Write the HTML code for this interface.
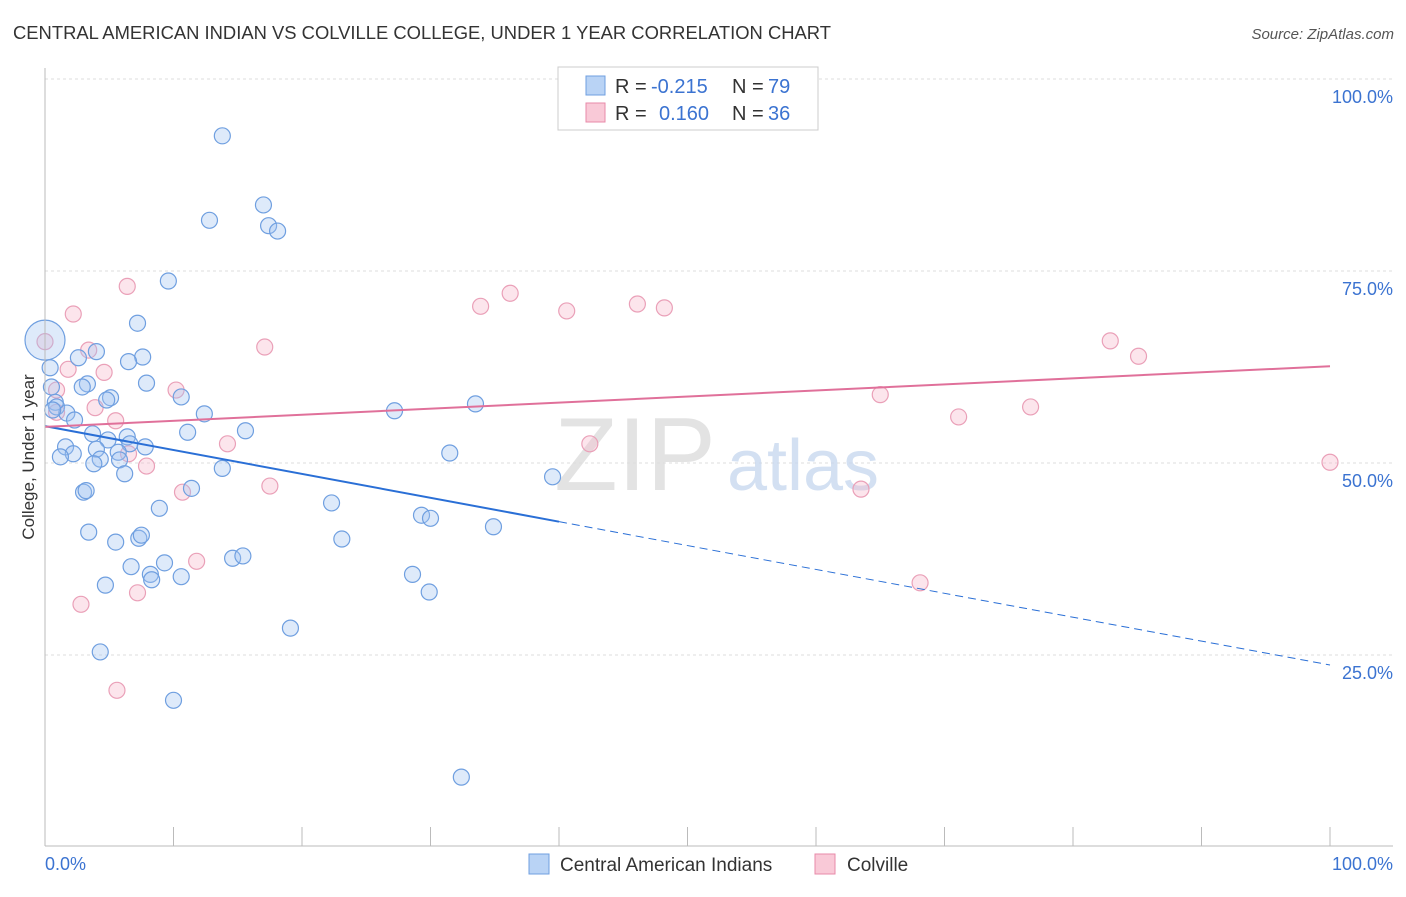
<!DOCTYPE html>
<html><head><meta charset="utf-8">
<style>
body{margin:0;background:#fff;font-family:"Liberation Sans",sans-serif;}
svg text{font-family:"Liberation Sans",sans-serif;}
</style></head>
<body>
<svg id="chart" width="1406" height="892" viewBox="0 0 1406 892" xmlns="http://www.w3.org/2000/svg">
<text x="13" y="39" font-size="18" fill="#333" textLength="818" lengthAdjust="spacingAndGlyphs">CENTRAL AMERICAN INDIAN VS COLVILLE COLLEGE, UNDER 1 YEAR CORRELATION CHART</text>
<text x="1394" y="39" font-size="15" fill="#555" text-anchor="end" font-style="italic">Source: ZipAtlas.com</text>
<g id="grid"></g>
<g>
<text x="635" y="490" font-size="104" fill="#ddd" text-anchor="middle" font-family="Liberation Serif" opacity="0.8">ZIP</text>
<text x="803" y="490" font-size="72" fill="#c9d9ef" text-anchor="middle" opacity="0.8">atlas</text>
</g>
<g id="pts"></g>
<g id="lines"></g>
<g id="axes"></g>
<text transform="translate(34,457) rotate(-90)" font-size="17" fill="#333" text-anchor="middle">College, Under 1 year</text>
<g>
<rect x="558" y="67" width="260" height="63" fill="#fff" stroke="#ccc"/>
<rect x="586" y="76" width="19" height="19" fill="#b9d3f5" stroke="#6f9fe0"/>
<text x="615" y="93" font-size="20" fill="#333">R =</text>
<text x="651" y="93" font-size="20" fill="#3b73d1">-0.215</text>
<text x="732" y="93" font-size="20" fill="#333">N =</text>
<text x="768" y="93" font-size="20" fill="#3b73d1">79</text>
<rect x="586" y="103" width="19" height="19" fill="#f9c9d7" stroke="#e88aa8"/>
<text x="615" y="120" font-size="20" fill="#333">R =</text>
<text x="659" y="120" font-size="20" fill="#3b73d1">0.160</text>
<text x="732" y="120" font-size="20" fill="#333">N =</text>
<text x="768" y="120" font-size="20" fill="#3b73d1">36</text>
</g>
<g>
<rect x="529" y="854" width="20" height="20" fill="#b9d3f5" stroke="#6f9fe0"/>
<text x="560" y="871" font-size="19" fill="#333">Central American Indians</text>
<rect x="815" y="854" width="20" height="20" fill="#f9c9d7" stroke="#e88aa8"/>
<text x="847" y="871" font-size="19" fill="#333">Colville</text>
</g>
</svg>
<script>
const yTicks=[25,50,75,100];
const yTickLabels=["25.0%","50.0%","75.0%","100.0%"];
const xLabels=["0.0%","100.0%"];
const blueX=[13.8,17.0,12.8,17.4,18.1,9.6,7.2,0,7.6,4.0,6.5,2.6,0.4,3.3,2.9,7.9,10.6,5.1,4.8,0.5,0.8,0.9,1.7,0.6,2.3,12.4,15.6,11.1,3.7,4.9,6.4,6.6,7.8,1.6,4.0,2.2,1.2,4.3,5.7,5.8,3.8,13.8,6.2,3.0,3.2,11.4,8.9,3.4,7.3,7.5,5.5,14.6,15.4,9.3,6.7,8.2,8.3,10.6,4.7,19.1,4.3,10.0,27.2,33.5,31.5,39.5,22.3,23.1,29.3,30.0,34.9,28.6,29.9,32.4];
const blueY=[92.6,83.6,81.6,80.9,80.2,73.7,68.2,66.0,63.8,64.5,63.2,63.7,62.4,60.3,59.9,60.4,58.6,58.5,58.2,59.9,57.9,57.3,56.5,56.9,55.6,56.4,54.2,54.0,53.8,53.0,53.4,52.5,52.1,52.1,51.8,51.2,50.8,50.5,51.4,50.4,49.9,49.3,48.6,46.2,46.4,46.7,44.1,41.0,40.2,40.6,39.7,37.6,37.9,37.0,36.5,35.5,34.8,35.2,34.1,28.5,25.4,19.1,56.8,57.7,51.3,48.2,44.8,40.1,43.2,42.8,41.7,35.5,33.2,9.1];
const pinkX=[53.5,6.4,2.2,33.9,36.2,40.6,46.1,48.2,17.1,3.4,4.6,1.8,0,0.9,10.2,3.9,5.5,14.2,7.9,6.5,10.7,17.5,11.8,7.2,2.8,5.6,42.4,65.0,71.1,76.7,82.9,85.1,100,63.5,68.1,0.9];
const pinkY=[99.9,73.0,69.4,70.4,72.1,69.8,70.7,70.2,65.1,64.7,61.8,62.2,65.8,59.5,59.5,57.2,55.5,52.5,49.6,51.2,46.2,47.0,37.2,33.1,31.6,20.4,52.5,58.9,56.0,57.3,65.9,63.9,50.1,46.6,34.4,56.6];
const blueTrend=[54.8,23.7];
const pinkTrend=[54.7,62.6];
const NS="http://www.w3.org/2000/svg";
const X0=45,X1=1330,Y0=847,Y100=79;
const sx=v=>X0+(X1-X0)*v/100;
const sy=v=>Y0-(Y0-Y100)*v/100;
function mk(tag,attrs,parent){const e=document.createElementNS(NS,tag);for(const k in attrs)e.setAttribute(k,attrs[k]);parent.appendChild(e);return e;}
const grid=document.getElementById('grid'),axes=document.getElementById('axes'),pts=document.getElementById('pts'),lines=document.getElementById('lines');
yTicks.forEach((t,i)=>{
 const l=mk('line',{x1:45,x2:1393,y1:sy(t),y2:sy(t),stroke:'#ddd','stroke-dasharray':'3,3'},grid);
 
 
 const tx=mk('text',{x:1393,y:sy(t)+24,'font-size':18,fill:'#3b73d1','text-anchor':'end'},axes);
 tx.textContent=yTickLabels[i];
 
 
});
mk('line',{x1:45,x2:45,y1:68,y2:846,stroke:'#bbb'},axes);
mk('line',{x1:45,x2:1393,y1:846,y2:846,stroke:'#bbb'},axes);
for(let i=0;i<=10;i++){const t=mk('line',{x1:sx(i*10),x2:sx(i*10),y1:827,y2:846,stroke:'#bbb'},axes);}
const xl0=mk('text',{x:45,y:870,'font-size':18,fill:'#3b73d1'},axes);xl0.textContent=xLabels[0];


const xl1=mk('text',{x:1393,y:870,'font-size':18,fill:'#3b73d1','text-anchor':'end'},axes);xl1.textContent=xLabels[1];


pinkX.forEach((v,i)=>{const c=mk('circle',{cx:sx(v),cy:sy(pinkY[i]),r:8,fill:'rgba(246,180,200,0.35)',stroke:'#eaa0b8','stroke-width':1.2},pts);
 
 });
blueX.forEach((v,i)=>{const c=mk('circle',{cx:sx(v),cy:sy(blueY[i]),r:(i===7?20:8),fill:'rgba(160,195,240,0.35)',stroke:'#6f9fe0','stroke-width':1.2},pts);
 
 });
const by=x=>blueTrend[0]+(blueTrend[1]-blueTrend[0])*x/100;
const b1=mk('line',{x1:sx(0),y1:sy(by(0)),x2:sx(40),y2:sy(by(40)),stroke:'#2a6fd6','stroke-width':2},lines);


const b2=mk('line',{x1:sx(40),y1:sy(by(40)),x2:sx(100),y2:sy(by(100)),stroke:'#2a6fd6','stroke-width':1,'stroke-dasharray':'8,5'},lines);


const p1=mk('line',{x1:sx(0),y1:sy(pinkTrend[0]),x2:sx(100),y2:sy(pinkTrend[1]),stroke:'#e0709a','stroke-width':2},lines);


</script>
</body></html>
